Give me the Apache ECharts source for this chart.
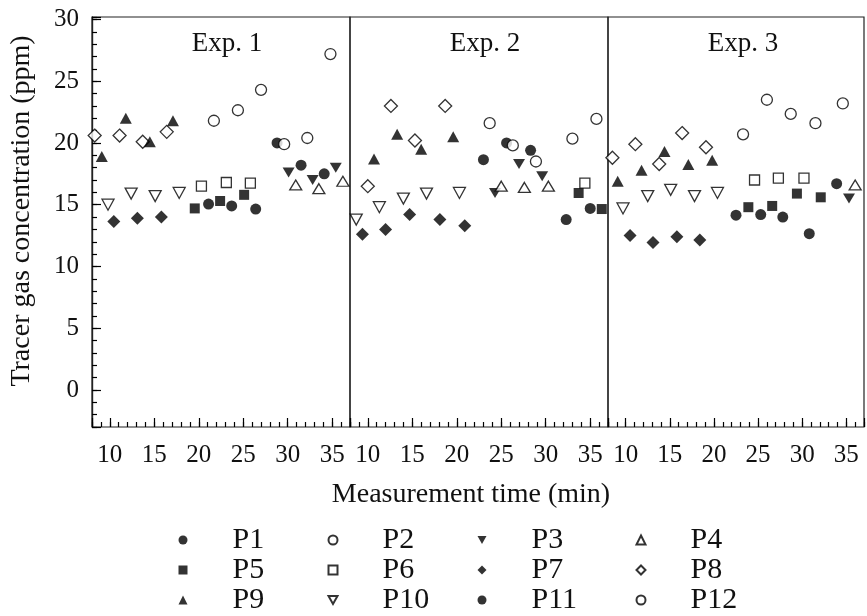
<!DOCTYPE html>
<html>
<head>
<meta charset="utf-8">
<title>Tracer gas concentration</title>
<script src="https://cdn.jsdelivr.net/npm/echarts@6/dist/echarts.min.js"></script>
<style>
	html, body { margin: 0; padding: 0; background: #fff; }
	#chart { width: 867px; height: 616px; }
</style>
</head>
<body>
<div id="chart"></div>
<script>
	var expNames = ['Exp. 1', 'Exp. 2', 'Exp. 3'];
	var timeTicks = [10, 15, 20, 25, 30, 35];
	var concTicks = [0, 5, 10, 15, 20, 25, 30];

	// [time (min), concentration (ppm)] -- one list per experiment
	var p1 = [
		[[28.8, 20.0], [31.5, 18.2], [34.1, 17.5]],
		[[32.3, 13.8], [35.0, 14.7]],
		[[30.8, 12.65], [33.9, 16.7]]
	];
	var p2 = [
		[[29.6, 19.9], [32.2, 20.4], [34.8, 27.2]],
		[[33.0, 20.35], [35.7, 21.95]],
		[[31.5, 21.6], [34.6, 23.2]]
	];
	var p3 = [
		[[30.1, 17.6], [32.8, 17.0], [35.4, 18.0]],
		[[24.3, 15.95], [27.0, 18.3], [29.6, 17.3]],
		[[35.3, 15.5]]
	];
	var p4 = [
		[[30.9, 16.6], [33.5, 16.3], [36.2, 16.9]],
		[[25.0, 16.5], [27.6, 16.4], [30.3, 16.5]],
		[[36.0, 16.6]]
	];
	var p5 = [
		[[19.55, 14.7], [22.4, 15.3], [25.1, 15.8]],
		[[33.7, 15.95], [36.3, 14.65]],
		[[23.9, 14.8], [26.6, 14.9], [29.4, 15.9], [32.1, 15.6]]
	];
	var p6 = [
		[[20.3, 16.5], [23.1, 16.8], [25.8, 16.75]],
		[[34.4, 16.75]],
		[[24.6, 17.0], [27.3, 17.15], [30.2, 17.15]]
	];
	var p7 = [
		[[10.45, 13.65], [13.1, 13.9], [15.8, 14.0]],
		[[9.4, 12.6], [12.0, 13.0], [14.7, 14.2], [18.1, 13.8], [20.9, 13.3]],
		[[10.5, 12.5], [13.1, 11.95], [15.8, 12.4], [18.4, 12.15]]
	];
	var p8 = [
		[[8.3, 20.6], [11.1, 20.6], [13.7, 20.1], [16.4, 20.9]],
		[[10.0, 16.5], [12.6, 23.0], [15.3, 20.2], [18.7, 23.0]],
		[[8.5, 18.8], [11.1, 19.9], [13.8, 18.3], [16.4, 20.8], [19.1, 19.65]]
	];
	var p9 = [
		[[9.1, 18.9], [11.8, 22.0], [14.5, 20.1], [17.1, 21.8]],
		[[10.7, 18.7], [13.3, 20.7], [16.0, 19.5], [19.6, 20.5]],
		[[9.1, 16.9], [11.8, 17.8], [14.4, 19.3], [17.1, 18.25], [19.8, 18.6]]
	];
	var p10 = [
		[[9.8, 15.0], [12.4, 15.9], [15.1, 15.7], [17.8, 15.95]],
		[[8.7, 13.8], [11.3, 14.8], [14.0, 15.5], [16.6, 15.9], [20.3, 15.95]],
		[[9.7, 14.7], [12.5, 15.7], [15.1, 16.2], [17.8, 15.7], [20.4, 15.95]]
	];
	var p11 = [
		[[21.1, 15.05], [23.7, 14.9], [26.4, 14.65]],
		[[23.0, 18.65], [25.6, 20.0], [28.3, 19.4]],
		[[22.5, 14.15], [25.3, 14.2], [27.8, 14.0]]
	];
	var p12 = [
		[[21.7, 21.8], [24.4, 22.65], [27.0, 24.3]],
		[[23.7, 21.6], [26.3, 19.8], [28.9, 18.5]],
		[[23.3, 20.7], [26.0, 23.5], [28.7, 22.35]]
	];

	var sensorNames = ['P1', 'P2', 'P3', 'P4', 'P5', 'P6', 'P7', 'P8', 'P9', 'P10', 'P11', 'P12'];
	var sensorData = [p1, p2, p3, p4, p5, p6, p7, p8, p9, p10, p11, p12];

	var font = '"Liberation Serif", "Times New Roman", serif';
	var ink = '#111';
	var downTri = 'path://M0,0L10,0L5,9Z';

	// marker look for each sensor
	var markers = {
		P1: { symbol: 'circle', size: 11, fill: true },
		P2: { symbol: 'circle', size: 11, fill: false },
		P3: { symbol: downTri, size: [12, 10], fill: true },
		P4: { symbol: 'triangle', size: [12, 10], fill: false },
		P5: { symbol: 'rect', size: 10, fill: true },
		P6: { symbol: 'rect', size: 10, fill: false },
		P7: { symbol: 'diamond', size: 13, fill: true },
		P8: { symbol: 'diamond', size: 13, fill: false },
		P9: { symbol: 'triangle', size: [12, 11], fill: true },
		P10: { symbol: downTri, size: [12, 11], fill: false },
		P11: { symbol: 'circle', size: 11, fill: true },
		P12: { symbol: 'circle', size: 11, fill: false }
	};

	var chart = echarts.init(document.getElementById('chart'));

	var tickLine = { color: '#000', width: 1.2 };
	var noLine = { show: false, onZero: false };
	var yEdge = { show: true, onZero: false, lineStyle: { color: '#222', width: 1.2 } };
	var gridLeft = [92, 350, 608];
	var gridHeight = 410;
	var grids = [], xAxes = [], yAxes = [], titles = [];
	for (var g = 0; g < 3; g++) {
		grids.push({
			left: gridLeft[g], top: 17, width: 258, height: gridHeight,
			show: true, borderColor: '#222', borderWidth: 1.2
		});
		// labels + axis name
		xAxes.push({
			type: 'value', gridIndex: g, min: 8, max: 37, interval: 1, position: 'bottom',
			axisLine: noLine,
			axisTick: { show: false },
			splitLine: { show: false },
			axisLabel: {
				show: true, margin: 16, color: ink, fontFamily: font, fontSize: 25,
				formatter: function (v) { return timeTicks.indexOf(v) >= 0 ? String(v) : ''; }
			},
			name: g === 1 ? 'Measurement time (min)' : '',
			nameLocation: 'middle', nameGap: 54,
			nameTextStyle: { color: ink, fontFamily: font, fontSize: 28, padding: [0, 16, 0, 0] }
		});
		yAxes.push({
			type: 'value', gridIndex: g, min: -3, max: 30.2, interval: 1, position: 'left',
			show: g === 0,
			axisLine: yEdge,
			axisTick: { show: true, inside: true, length: 5, lineStyle: tickLine },
			splitLine: { show: false },
			axisLabel: {
				show: true, margin: 13, color: ink, fontFamily: font, fontSize: 25,
				formatter: function (v) { return concTicks.indexOf(v) >= 0 ? String(v) : ''; }
			},
			name: g === 0 ? 'Tracer gas concentration (ppm)' : '',
			nameLocation: 'middle', nameGap: 56,
			nameTextStyle: { color: ink, fontFamily: font, fontSize: 28, padding: [0, 0, 0, 22] }
		});
		titles.push({
			text: expNames[g], left: gridLeft[g] + 130, top: 25, textAlign: 'center',
			textStyle: { color: ink, fontFamily: font, fontSize: 27, fontWeight: 'normal' }
		});
	}
	// tick combs: top-positioned axes pulled down onto the bottom edge, ticks pointing up
	for (var g = 0; g < 3; g++) {
		xAxes.push({
			type: 'value', gridIndex: g, min: 8, max: 37, interval: 1,
			position: 'top', offset: -gridHeight,
			axisLine: noLine, axisLabel: { show: false }, splitLine: { show: false },
			axisTick: { show: true, inside: false, length: 5, lineStyle: tickLine }
		});
	}
	for (var g = 0; g < 3; g++) {
		xAxes.push({
			type: 'value', gridIndex: g, min: 8, max: 37,
			position: 'top', offset: -gridHeight,
			axisLine: noLine, axisLabel: { show: false }, splitLine: { show: false },
			axisTick: { show: true, inside: false, length: 9, lineStyle: tickLine }
		});
	}
	yAxes.push({
		type: 'value', gridIndex: 0, min: -3, max: 30.2, position: 'left',
		axisLine: yEdge, axisLabel: { show: false }, splitLine: { show: false },
		axisTick: { show: true, inside: true, length: 9, lineStyle: tickLine }
	});

	var series = [];
	for (var i = 0; i < sensorNames.length; i++) {
		var name = sensorNames[i];
		var m = markers[name];
		for (var e = 0; e < 3; e++) {
			series.push({
				type: 'scatter', name: name,
				xAxisIndex: e, yAxisIndex: e,
				symbol: m.symbol, symbolSize: m.size,
				itemStyle: m.fill
					? { color: '#000' }
					: { color: '#fff', borderColor: '#000', borderWidth: 1.3 },
				data: sensorData[i][e]
			});
		}
	}

	var legendCols = [['P1', 'P5', 'P9'], ['P2', 'P6', 'P10'], ['P3', 'P7', 'P11'], ['P4', 'P8', 'P12']];
	var legendLeft = [178.5, 327.5, 477.5, 635.5];
	var legends = [];
	for (var c = 0; c < legendCols.length; c++) {
		legends.push({
			orient: 'vertical', left: legendLeft[c], top: 525, padding: 0,
			itemWidth: 9, itemHeight: 9, itemGap: 0, selectedMode: false,
			data: legendCols[c],
			textStyle: { color: ink, fontFamily: font, fontSize: 30, lineHeight: 30, padding: [0, 0, 0, 40] }
		});
	}

	chart.setOption({
		animation: false,
		backgroundColor: '#fff',
		title: titles,
		legend: legends,
		grid: grids,
		xAxis: xAxes,
		yAxis: yAxes,
		series: series
	});
</script>
</body>
</html>
